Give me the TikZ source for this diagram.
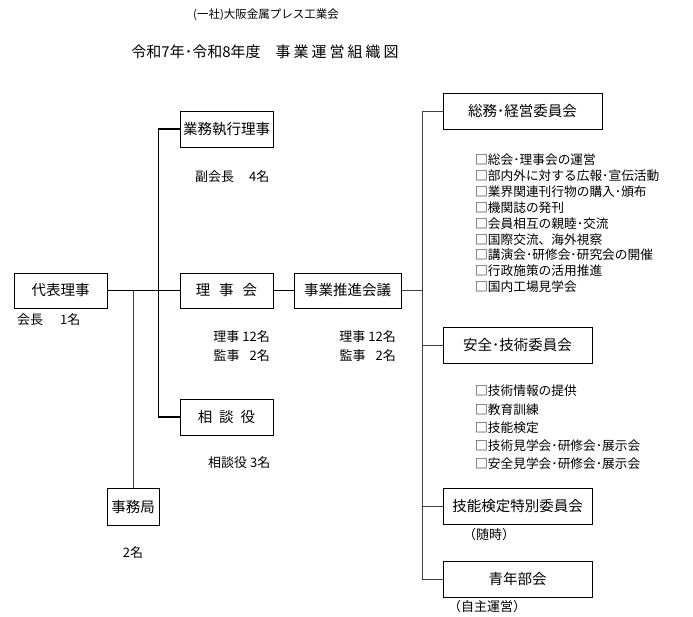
\documentclass[tikz,border=0pt]{standalone}
\usepackage{fontspec}
\setmainfont{Noto Sans CJK JP}
\begin{document}
\begin{tikzpicture}[x=1pt,y=-1pt,
  box/.style={draw, line width=1pt, inner sep=0pt, minimum height=36pt, font=\fontsize{14.5}{17}\selectfont},
  lbl/.style={inner sep=0pt, font=\fontsize{13}{15}\selectfont},
  item/.style={inner sep=0pt, anchor=west, font=\fontsize{12.7}{15}\selectfont},
  conn/.style={line width=1.2pt},
  connr/.style={line width=0.9pt, draw=black!75}]
\useasboundingbox (0,0) rectangle (693,616);
% titles
\node[inner sep=0pt, font=\fontsize{11.5}{14}\selectfont] (t1) at (266,15) {(一社)大阪金属プレス工業会};
\node[inner sep=0pt, font=\fontsize{15}{18}\selectfont] (t2) at (265,52) {令和7年･令和8年度　事\hspace{3pt}業\hspace{3pt}運\hspace{3pt}営\hspace{3pt}組\hspace{3pt}織\hspace{3pt}図};
% left boxes
\node[box, minimum width=93pt] (gyomu) at (226.5,129) {業務執行理事};
\node[box, minimum width=93pt, minimum height=35pt] (daihyo) at (60.5,290.5) {代表理事};
\node[box, minimum width=93pt, minimum height=35pt] (rijikai) at (226.5,290.5) {理\hspace{9pt}事\hspace{9pt}会};
\node[box, minimum width=107pt, minimum height=35pt] (suishin) at (347.5,290.5) {事業推進会議};
\node[box, minimum width=93pt] (soudan) at (226.5,417) {相\hspace{7pt}談\hspace{7pt}役};
\node[box, minimum width=52pt, minimum height=37pt] (jimu) at (133,506.5) {事務局};
% right boxes
\node[box, minimum width=159pt] (soumu) at (522.5,111) {総務･経営委員会};
\node[box, minimum width=149pt] (anzen) at (517.5,345) {安全･技術委員会};
\node[box, minimum width=149pt] (ginou) at (517.5,506) {技能検定特別委員会};
\node[box, minimum width=149pt] (seinen) at (517.5,579) {青年部会};
% labels
\node[lbl, anchor=west] (l1) at (17,320) {会長\hspace{17pt}1名};
\node[lbl, anchor=west] (l2) at (195,177) {副会長\hspace{15pt}4名};
\node[lbl, anchor=east] (l3) at (270,337) {理事 12名};
\node[lbl, anchor=east] (l4) at (270,356) {監事\hspace{10pt}2名};
\node[lbl, anchor=east] (l5) at (396,337) {理事 12名};
\node[lbl, anchor=east] (l6) at (396,356) {監事\hspace{10pt}2名};
\node[lbl, anchor=west] (l7) at (208,463) {相談役 3名};
\node[lbl] (l8) at (133,553) {2名};
\node[lbl, anchor=west] (l9) at (463,535) {（随時）};
\node[lbl, anchor=west] (l10) at (448,607) {（自主運営）};
% item lists
\foreach \t [count=\i] in {□総会･理事会の運営, □部内外に対する広報･宣伝活動, □業界関連刊行物の購入･頒布, □機関誌の発刊, □会員相互の親睦･交流, □国際交流、海外視察, □講演会･研修会･研究会の開催, □行政施策の活用推進, □国内工場見学会}
  \node[item] (a\i) at (475,{160+(\i-1)*15.85}) {\t};
\foreach \t [count=\i] in {□技術情報の提供, □教育訓練, □技能検定, □技術見学会･研修会･展示会, □安全見学会･研修会･展示会}
  \node[item] (b\i) at (475,{391+(\i-1)*18.25}) {\t};
% connectors
\coordinate (jt) at (133,290.5);
\coordinate (rt) at (423,290.5);
\draw[conn] (daihyo) -- (rijikai);
\draw[connr] (jt) -- (jimu.north);
\draw[conn] (gyomu.west) -- ++(-21,0) |- (soudan.west);
\draw[conn] (rijikai) -- (suishin);
\draw[connr] (suishin) -- (rt);
\draw[connr] (soumu.west) -- ++(-20,0) |- (seinen.west);
\draw[connr] (anzen.west) -- ++(-20,0);
\draw[connr] (ginou.west) -- ++(-20,0);
\end{tikzpicture}
\end{document}
